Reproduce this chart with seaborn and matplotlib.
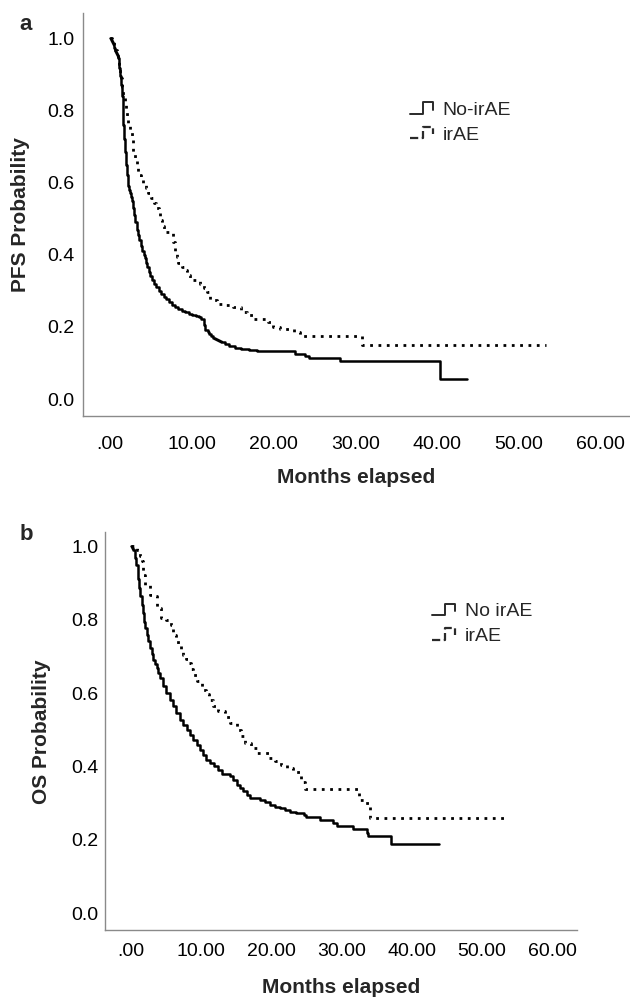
import numpy as np
import pandas as pd
import matplotlib
matplotlib.use("Agg")
import matplotlib.pyplot as plt
from matplotlib.legend_handler import HandlerBase
from matplotlib.lines import Line2D
from matplotlib.ticker import FuncFormatter
import seaborn as sns

# ---- panel a: PFS ----
pfs_no_t = [0, 0.2, 0.3, 0.4, 0.5, 0.6, 0.7, 0.8, 0.9, 1.0, 1.1, 1.2, 1.3, 1.4, 1.5, 1.6, 1.7, 1.8,
            1.9, 2.0, 2.1, 2.2, 2.3, 2.4, 2.5, 2.6, 2.7, 2.85, 3.0, 3.15, 3.3, 3.45, 3.6, 3.8, 4.0,
            4.15, 4.3, 4.45, 4.6, 4.8, 5.0, 5.2, 5.4, 5.7, 6.0, 6.3, 6.6, 6.9, 7.2, 7.6, 8.0, 8.4,
            8.8, 9.2, 9.7, 10.1, 10.5, 10.9, 11.2, 11.5, 11.7, 12.0, 12.2, 12.4, 12.6, 12.9, 13.1,
            13.4, 13.6, 14.1, 14.6, 15.3, 16.1, 17.0, 18.0, 22.7, 23.9, 24.4, 28.1, 40.3, 43.7]
pfs_no_s = [1.0, 0.995, 0.99, 0.985, 0.98, 0.972, 0.965, 0.96, 0.954, 0.945, 0.935, 0.917, 0.895,
            0.87, 0.84, 0.806, 0.76, 0.72, 0.686, 0.65, 0.62, 0.605, 0.59, 0.58, 0.57, 0.56, 0.55,
            0.53, 0.51, 0.49, 0.468, 0.455, 0.44, 0.425, 0.41, 0.40, 0.39, 0.378, 0.366, 0.353,
            0.34, 0.33, 0.32, 0.31, 0.30, 0.291, 0.283, 0.277, 0.27, 0.262, 0.255, 0.25, 0.245,
            0.241, 0.237, 0.233, 0.23, 0.226, 0.223, 0.205, 0.19, 0.185, 0.18, 0.175, 0.17, 0.166,
            0.163, 0.16, 0.158, 0.152, 0.147, 0.142, 0.138, 0.135, 0.133, 0.125, 0.12, 0.113,
            0.105, 0.056, 0.056]
pfs_ir_t = [0, 0.3, 0.5, 0.7, 0.9, 1.05, 1.2, 1.3, 1.4, 1.55, 1.7, 1.85, 2.0, 2.15, 2.3, 2.5, 2.7,
            2.9, 3.1, 3.3, 3.5, 3.8, 4.1, 4.4, 4.7, 5.05, 5.4, 5.7, 6.0, 6.2, 6.4, 6.6, 7.7, 8.0,
            8.2, 8.4, 8.8, 9.2, 9.5, 9.8, 11.1, 11.5, 11.9, 12.3, 13.1, 14.0, 15.1, 16.1, 16.8,
            17.6, 19.4, 20.0, 20.8, 22.5, 23.2, 30.8, 53.3]
pfs_ir_s = [1.0, 0.99, 0.98, 0.968, 0.955, 0.94, 0.92, 0.905, 0.89, 0.865, 0.843, 0.82, 0.797,
            0.778, 0.76, 0.745, 0.73, 0.686, 0.668, 0.65, 0.62, 0.61, 0.598, 0.584, 0.57, 0.556,
            0.542, 0.53, 0.519, 0.496, 0.48, 0.463, 0.436, 0.41, 0.393, 0.376, 0.366, 0.357, 0.343,
            0.33, 0.32, 0.308, 0.297, 0.274, 0.264, 0.26, 0.255, 0.241, 0.232, 0.223, 0.213, 0.2,
            0.194, 0.185, 0.174, 0.15, 0.15]

# ---- panel b: OS ----
os_no_t = [0, 0.2, 0.4, 0.6, 0.8, 1.0, 1.1, 1.2, 1.4, 1.6, 1.8, 1.95, 2.1, 2.3, 2.55, 2.8, 3.0,
           3.2, 3.45, 3.7, 3.95, 4.2, 4.6, 5.1, 5.6, 6.1, 6.5, 7.0, 7.5, 8.0, 8.4, 8.9, 9.4, 9.9,
           10.3, 10.8, 11.3, 11.8, 12.4, 13.0, 14.1, 14.6, 15.1, 15.5, 16.0, 16.5, 17.0, 18.4,
           19.1, 19.8, 20.5, 21.3, 22.0, 22.7, 23.6, 24.6, 25.0, 26.9, 28.8, 29.3, 31.7, 33.6,
           33.8, 37.1, 43.8]
os_no_s = [1.0, 0.995, 0.99, 0.968, 0.95, 0.932, 0.91, 0.886, 0.864, 0.841, 0.818, 0.795, 0.777,
           0.759, 0.741, 0.723, 0.707, 0.691, 0.68, 0.668, 0.654, 0.64, 0.62, 0.6, 0.582, 0.564,
           0.545, 0.527, 0.513, 0.5, 0.486, 0.473, 0.459, 0.445, 0.431, 0.418, 0.409, 0.4, 0.39,
           0.38, 0.373, 0.362, 0.35, 0.341, 0.332, 0.323, 0.314, 0.309, 0.302, 0.295, 0.29, 0.286,
           0.281, 0.277, 0.272, 0.268, 0.262, 0.254, 0.245, 0.238, 0.229, 0.22, 0.211, 0.188, 0.188]
os_ir_t = [0, 0.9, 1.3, 1.6, 1.8, 2.0, 2.8, 3.2, 3.7, 4.4, 5.1, 5.8, 6.1, 6.5, 6.8, 7.2, 7.5, 7.9,
           8.2, 8.6, 8.9, 9.4, 10.1, 10.8, 11.2, 11.7, 12.5, 13.4, 14.2, 15.1, 15.7, 16.3, 17.1,
           18.0, 19.7, 20.5, 21.4, 22.2, 23.1, 24.3, 24.8, 32.5, 33.3, 34.0, 34.1, 53.1]
os_ir_s = [1.0, 0.99, 0.975, 0.959, 0.923, 0.896, 0.868, 0.864, 0.832, 0.805, 0.8, 0.786, 0.759,
           0.745, 0.732, 0.718, 0.705, 0.693, 0.682, 0.666, 0.65, 0.632, 0.609, 0.597, 0.58, 0.564,
           0.55, 0.536, 0.518, 0.5, 0.482, 0.464, 0.45, 0.436, 0.423, 0.414, 0.405, 0.395, 0.386,
           0.359, 0.338, 0.309, 0.3, 0.286, 0.259, 0.259]

x_ticks = [0, 10, 20, 30, 40, 50, 60]
y_ticks = [0.0, 0.2, 0.4, 0.6, 0.8, 1.0]

DOT = (0, (1, 2))


class StepHandler(HandlerBase):
    # legend icon drawn as a little step, SPSS style
    def create_artists(self, legend, orig_handle, xdescent, ydescent, width, height, fontsize, trans):
        xs = np.array([0, 0.55, 0.55, 1.0, 1.0]) * width - xdescent
        ys = np.array([0.1, 0.1, 0.95, 0.95, 0.4]) * height - ydescent
        ln = Line2D(xs, ys, color="#2a2a2a", lw=orig_handle.get_linewidth(),
                    linestyle=orig_handle.get_linestyle())
        ln.set_transform(trans)
        return [ln]


sns.set_theme(style="white")
plt.rcParams["font.family"] = ["Liberation Sans", "DejaVu Sans"]

fig = plt.figure(figsize=(6.3, 9.99), dpi=100)
ax_a = fig.add_axes([0.131, 0.5836, 0.867, 0.4034])
ax_b = fig.add_axes([0.167, 0.069, 0.749, 0.398])

panels = [
    (ax_a, pfs_no_t, pfs_no_s, pfs_ir_t, pfs_ir_s, "PFS Probability", ("No-irAE", "irAE"),
     (-3.3, 63.4), (-0.047, 1.07), 14.5, 6, (0.599, 0.78), -0.097, -0.128),
    (ax_b, os_no_t, os_no_s, os_ir_t, os_ir_s, "OS Probability", ("No irAE", "irAE"),
     (-3.6, 63.5), (-0.046, 1.038), 9.5, 5, (0.692, 0.823), -0.114, -0.12),
]

for ax, nt, ns, it, isv, ylab, labs, xl, yl, xpad, ypad, legpos, ylx, xly in panels:
    sns.lineplot(x=it, y=isv, ax=ax, color="black", linewidth=2.0, linestyle=DOT,
                 drawstyle="steps-post", estimator=None)
    sns.lineplot(x=nt, y=ns, ax=ax, color="black", linewidth=1.8,
                 drawstyle="steps-post", estimator=None)
    ax.set_xlim(*xl)
    ax.set_ylim(*yl)
    ax.set_xticks(x_ticks)
    ax.set_yticks(y_ticks)
    ax.xaxis.set_major_formatter(FuncFormatter(lambda v, p: ".00" if v == 0 else f"{v:.2f}"))
    ax.yaxis.set_major_formatter(FuncFormatter(lambda v, p: f"{v:.1f}"))
    ax.tick_params(axis="x", length=0, pad=xpad, labelsize=14, colors="black")
    ax.tick_params(axis="y", length=0, pad=ypad, labelsize=14, colors="black")
    for side in ("top", "right"):
        ax.spines[side].set_visible(False)
    for side in ("left", "bottom"):
        ax.spines[side].set_color("#8a8a8a")
        ax.spines[side].set_linewidth(1.0)
    ax.set_ylabel(ylab, fontsize=15, fontweight="bold")
    ax.set_xlabel("Months elapsed", fontsize=15, fontweight="bold")
    ax.yaxis.set_label_coords(ylx, 0.5)
    ax.xaxis.set_label_coords(0.5, xly)
    ax.grid(False)

    h1 = Line2D([], [], color="black", linestyle="-", lw=1.4)
    h2 = Line2D([], [], color="black", linestyle=(0, (1, 1.8)), lw=1.6)
    ax.legend([h1, h2], list(labs), handler_map={Line2D: StepHandler()}, loc="upper left",
              bbox_to_anchor=legpos, frameon=False, fontsize=14, borderpad=0, borderaxespad=0,
              handlelength=1.2, handletextpad=0.5, labelspacing=0.35)

fig.text(26 / 630, 1 - 25 / 999, "a", fontsize=16, fontweight="bold", ha="center", va="center")
fig.text(26 / 630, 1 - 535 / 999, "b", fontsize=16, fontweight="bold", ha="center", va="center")

fig.savefig("out.png", dpi=100)
